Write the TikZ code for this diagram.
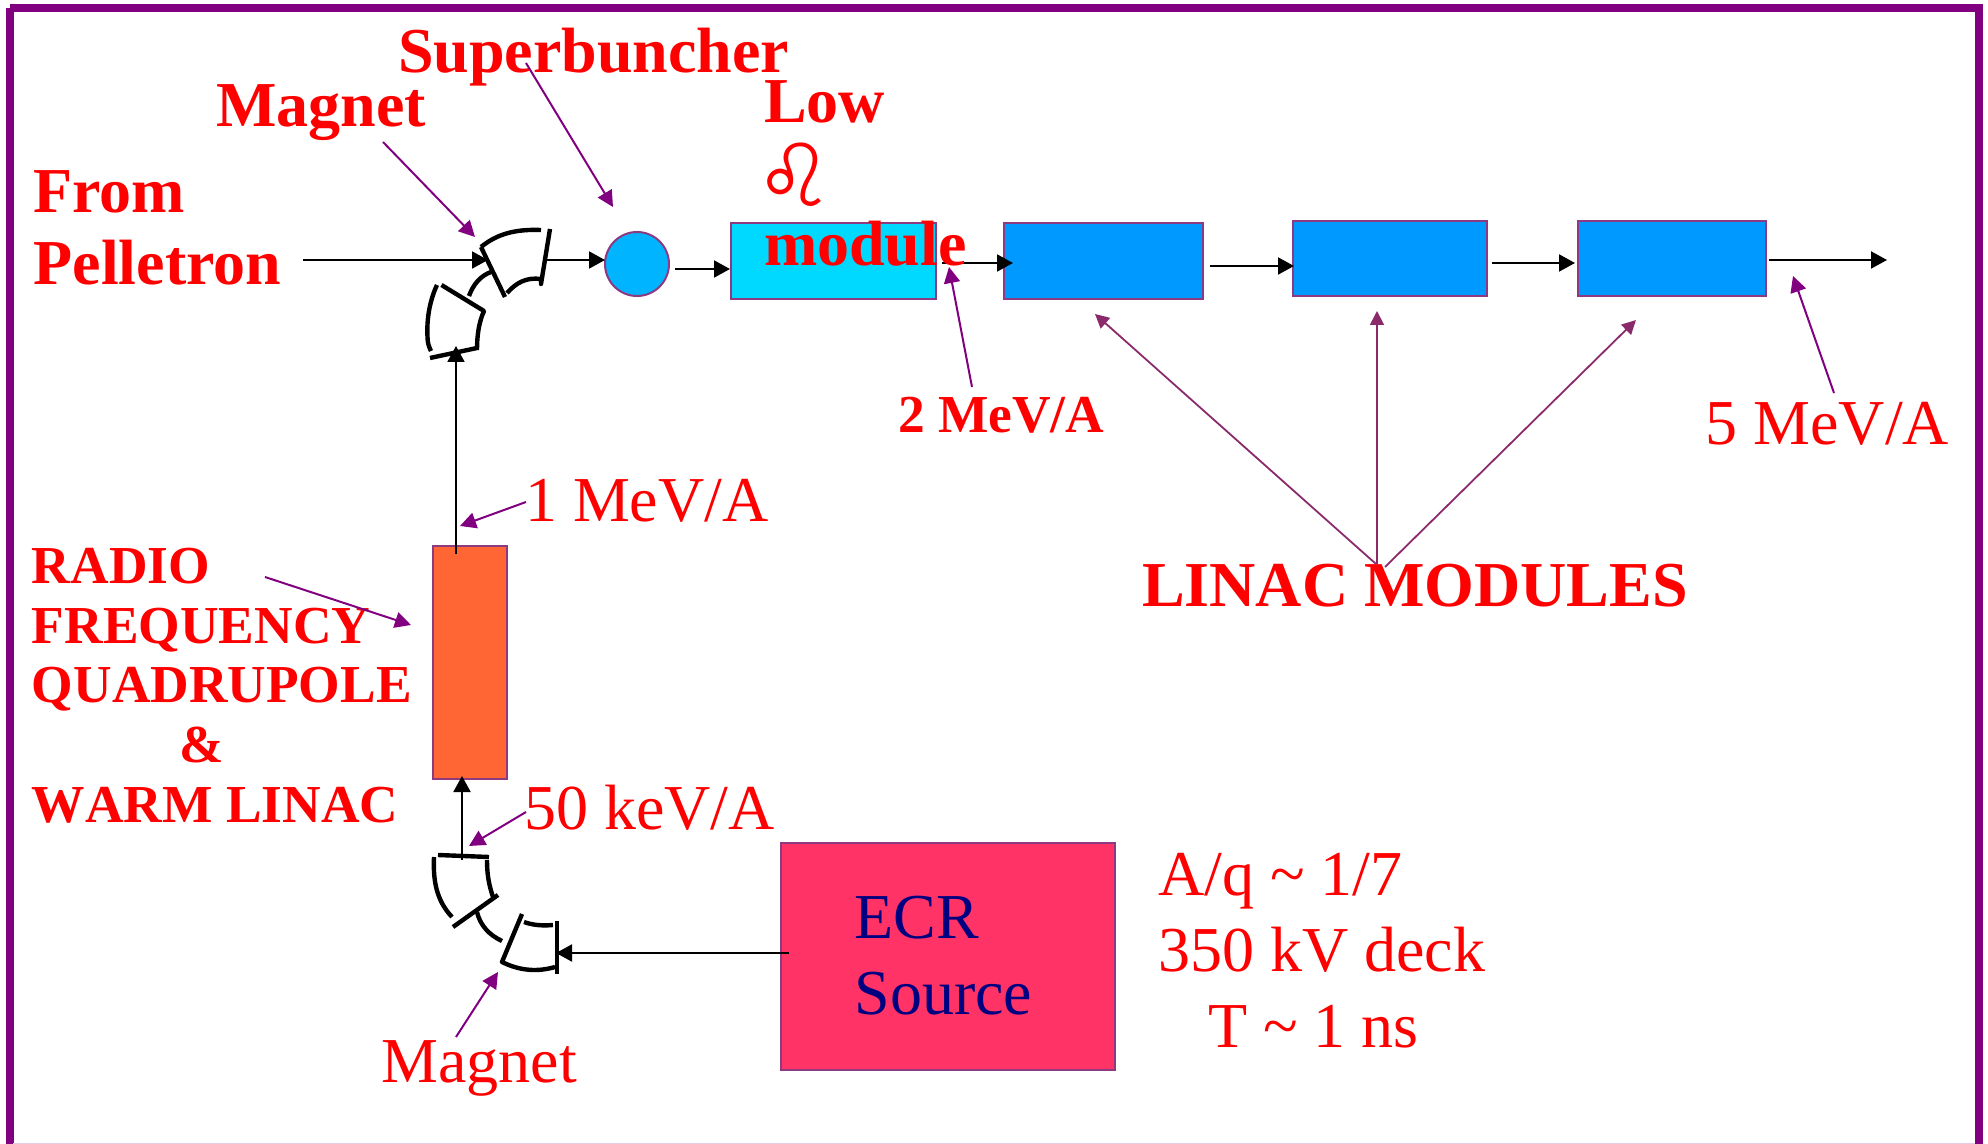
\documentclass[tikz,border=0pt]{standalone}
\usepackage{fontspec}
\setmainfont{Liberation Serif}
\newfontfamily\symfont{DejaVu Sans Bold}
\usetikzlibrary{arrows.meta}
\definecolor{framepurple}{HTML}{800080}
\definecolor{edgepurple}{HTML}{8E3A80}
\definecolor{modarrow}{HTML}{8B2A6B}
\definecolor{cyanbox}{HTML}{00D9FF}
\definecolor{bluebox}{HTML}{0099FF}
\definecolor{circlefill}{HTML}{00B4FF}
\definecolor{orangebox}{HTML}{FF6633}
\definecolor{ecrbox}{HTML}{FF3366}
\definecolor{navytext}{HTML}{000080}
\tikzset{
  box/.style={draw=edgepurple,line width=1pt,inner sep=0pt,outer sep=0pt},
  lbl/.style={anchor=base west,inner sep=0pt,outer sep=0pt,text=red,font=\fontsize{32}{32}\selectfont},
  blbl/.style={lbl,font=\fontsize{32}{32}\selectfont\bfseries},
  slbl/.style={lbl,font=\fontsize{26.7}{26.7}\selectfont\bfseries},
  beam/.style={draw=black,line width=1pt,-{Triangle[length=8pt,width=8.5pt]}},
  note/.style={draw=framepurple,line width=1pt,-{Triangle[length=8pt,width=8pt]}},
  modnote/.style={draw=modarrow,line width=.9pt,-{Triangle[length=7pt,width=7pt]}},
  pole/.style={draw=black,line width=2.2pt,line cap=butt,line join=round},
}
\begin{document}
\begin{tikzpicture}[x=0.5pt,y=-0.5pt]
\useasboundingbox (0,0) rectangle (1988,1144);
\begin{scope}
\clip (0,0) rectangle (1988,1144);
\draw[framepurple,line width=4pt] (9.5,8.5) -- (1979,8.5) -- (1979,1170);
\draw[framepurple,line width=4pt] (9.5,8.5) -- (9.5,1170);
\draw[framepurple!20,line width=.6pt] (13,1143.4) -- (1975,1143.4);
\end{scope}

% boxes
\node[box,fill=cyanbox,minimum width=102.5pt,minimum height=38pt] (lowmod) at (833.5,261) {};
\node[box,fill=bluebox,minimum width=99.5pt,minimum height=38pt] (lin1) at (1103.5,261) {};
\node[box,fill=bluebox,minimum width=97pt,minimum height=37.5pt] (lin2) at (1390,259) {};
\node[box,fill=bluebox,minimum width=94pt,minimum height=37.5pt] (lin3) at (1672,259) {};
\node[box,fill=orangebox,minimum width=37pt,minimum height=116pt] (rfq) at (469.5,662.5) {};
\node[box,fill=ecrbox,minimum width=167pt,minimum height=113.5pt] (ecr) at (948,956) {};
\node[box,fill=circlefill,circle,minimum size=32pt] (sb) at (637,264) {};

% upper magnets
\draw[pole] (481,247) .. controls (497,234) and (515,229) .. (541,230);
\draw[pole] (550,229) -- (541,284) -- (541,279) .. controls (526,277) and (516,283) .. (507,293);
\draw[pole] (481,247) -- (505,297);
\draw[pole] (491,272) .. controls (480,276) and (473,285) .. (469,296);
\draw[pole] (441.5,285) -- (484,311) .. controls (479,322) and (477,335) .. (477,350);
\draw[pole] (437,285) .. controls (430,300) and (426.5,318) .. (427.5,337) .. controls (427.5,343) and (429,347) .. (431,351);
\draw[pole] (430,358) -- (477,348);

% lower magnets
\draw[pole] (438,855) -- (489,857);
\draw[pole] (434,857) .. controls (433,880) and (436,900) .. (452,917);
\draw[pole] (487,860) .. controls (487,875) and (489,885) .. (493,897);
\draw[pole] (453,927) -- (498,895);
\draw[pole] (477,912) .. controls (480,925) and (489,935) .. (502,941);
\draw[pole] (522,914) -- (502,962) .. controls (520,971) and (538,972) .. (555,967);
\draw[pole] (557,921) -- (557,974);
\draw[pole] (524,922) .. controls (532,925) and (542,926) .. (553,925);

% free connector ends
\coordinate (pIn) at (303,260);
\coordinate (pOut) at (488,260);
\coordinate (mOut) at (546,260);
\coordinate (mTip) at (605,260);
\coordinate (sbOut) at (675,269);
\coordinate (lmIn) at (730,269);
\coordinate (lmOut) at (942,263);
\coordinate (l1In) at (1013,263);
\coordinate (l1Out) at (1210,266);
\coordinate (l2In) at (1294,266);
\coordinate (l2Out) at (1492,263);
\coordinate (l3In) at (1575,263);
\coordinate (l3Out) at (1769,260);
\coordinate (beamEnd) at (1887,260);
\coordinate (rfqTop) at (456,554);
\coordinate (magIn) at (456,346);
\coordinate (lowOut) at (462,860);
\coordinate (rfqIn) at (462,776);
\coordinate (ecrOut) at (789,953);
\coordinate (magLow) at (556,953);

% beam arrows
\draw[beam] (pIn) -- (pOut);
\draw[beam] (mOut) -- (mTip);
\draw[beam] (sbOut) -- (lmIn);
\draw[beam] (lmOut) -- (l1In);
\draw[beam] (l1Out) -- (l2In);
\draw[beam] (l2Out) -- (l3In);
\draw[beam] (l3Out) -- (beamEnd);
\draw[beam] (rfqTop) -- (magIn);
\draw[beam] (lowOut) -- (rfqIn);
\draw[beam] (ecrOut) -- (magLow);

% labels
\node[blbl] (from) at (33.5,213) {From};
\node[blbl] (pel) at (33.5,285) {Pelletron};
\node[blbl] (mag1) at (216,127) {Magnet};
\node[blbl] (super) at (398,72.5) {Superbuncher};
\node[blbl] (low) at (764,123) {Low};
\node[lbl,font=\fontsize{43.5}{43.5}\selectfont\symfont] (leo) at (755,207) {♌};
\node[blbl] (module) at (764,266) {module};
\node[slbl] (mev2) at (898,433) {2 MeV/A};
\node[lbl] (mev5) at (1705.5,445) {5 MeV/A};
\node[lbl] (mev1) at (525,522) {1 MeV/A};
\node[blbl] (linac) at (1142,607) {LINAC MODULES};
\node[slbl] (r1) at (32,584) {RADIO};
\node[slbl] (r2) at (32,644) {FREQUENCY};
\node[slbl] (r3) at (32,703) {QUADRUPOLE};
\node[slbl] (r4) at (179,762) {\&};
\node[slbl,font=\fontsize{26.7}{26.7}\selectfont\bfseries\addfontfeatures{Kerning=Off}] (r5) at (32,822) {WARM LINAC};
\node[lbl] (kev) at (524,829) {50 keV/A};
\node[lbl] (mag2) at (381.5,1082) {Magnet};
\node[lbl,text=navytext] (e1) at (854.5,938) {ECR};
\node[lbl,text=navytext] (e2) at (854.5,1014) {Source};
\node[lbl] (aq) at (1158,895) {A/q \char`~\ 1/7};
\node[lbl] (deck) at (1158,971) {350 kV deck};
\node[lbl] (tns) at (1208,1047) {T \char`~\ 1 ns};

% note arrow ends
\coordinate (n1a) at (383,142); \coordinate (n1b) at (475,237);
\coordinate (n2a) at (526,63);  \coordinate (n2b) at (613,207);
\coordinate (n3a) at (972,387); \coordinate (n3b) at (949,267);
\coordinate (n4a) at (1834,393);\coordinate (n4b) at (1793,276);
\coordinate (n5a) at (526,502); \coordinate (n5b) at (460,526);
\coordinate (n6a) at (265,577); \coordinate (n6b) at (411,625);
\coordinate (n7a) at (526,812); \coordinate (n7b) at (469,846);
\coordinate (n8a) at (456,1037);\coordinate (n8b) at (498,972);
\coordinate (m1a) at (1376,564);\coordinate (m1b) at (1095,314);
\coordinate (m2a) at (1377,564);\coordinate (m2b) at (1377,311);
\coordinate (m3a) at (1385,567);\coordinate (m3b) at (1636,320);
\foreach \a/\b in {n1a/n1b,n2a/n2b,n3a/n3b,n4a/n4b,n5a/n5b,n6a/n6b,n7a/n7b,n8a/n8b}
  \draw[note] (\a) -- (\b);
\foreach \a/\b in {m1a/m1b,m2a/m2b,m3a/m3b}
  \draw[modnote] (\a) -- (\b);
\end{tikzpicture}
\end{document}
